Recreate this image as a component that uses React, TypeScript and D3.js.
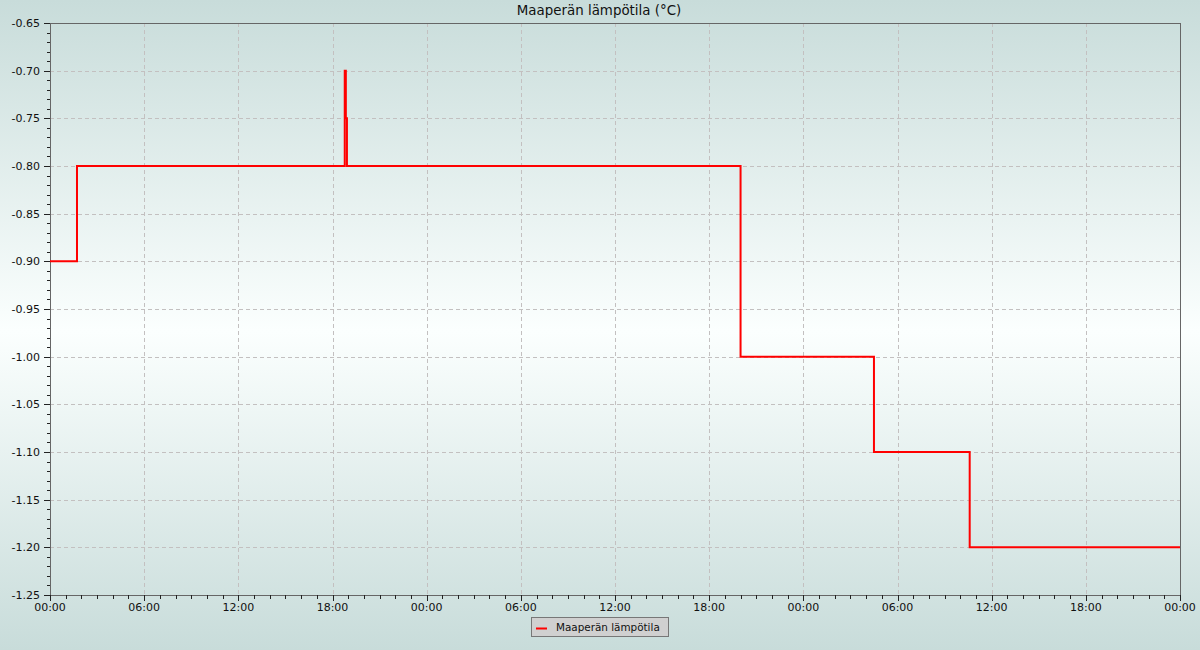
import React from "react";
import * as d3 from "d3";

const TITLE = "Maaperän lämpötila (°C)";
const SERIES_NAME = "Maaperän lämpötila";

// hours since start (start = 00:00 day 1) and the value recorded at that time (step-after)
const hours = [0, 1.72, 18.78, 18.85, 18.92, 44.0, 52.5, 58.6, 72];
const values = [-0.9, -0.8, -0.7, -0.75, -0.8, -1.0, -1.1, -1.2, -1.2];

const yTicks = [-0.65, -0.7, -0.75, -0.8, -0.85, -0.9, -0.95, -1.0, -1.05, -1.1, -1.15, -1.2, -1.25];
const xTickHours = [0, 6, 12, 18, 24, 30, 36, 42, 48, 54, 60, 66, 72];

const W = 1200;
const H = 650;
const M = { left: 50, right: 20, top: 23, bottom: 55 };

const start = Date.UTC(2024, 0, 1, 0, 0);
const toDate = (h: number) => new Date(start + h * 3600 * 1000);

export default function App() {
  const x = d3
    .scaleUtc()
    .domain([toDate(0), toDate(72)])
    .range([M.left, W - M.right]);
  const y = d3.scaleLinear().domain([-1.25, -0.65]).range([H - M.bottom, M.top]);

  const data = hours.map((h, i) => ({ t: toDate(h), v: values[i] }));
  const line = d3
    .line<{ t: Date; v: number }>()
    .x((d) => x(d.t))
    .y((d) => y(d.v))
    .curve(d3.curveStepAfter);

  const fmt = d3.utcFormat("%H:%M");
  const minorX = d3.range(0, 73, 1).filter((h) => h % 6 !== 0);
  const minorY = d3.range(-125, -64, 1).filter((v) => v % 5 !== 0).map((v) => v / 100);

  const x0 = M.left;
  const x1 = W - M.right;
  const y0 = H - M.bottom;
  const y1 = M.top;
  const font = "DejaVu Sans, sans-serif";

  return (
    <div style={{ position: "fixed", left: 0, top: 0 }}>
      <svg width={W} height={H} style={{ display: "block" }}>
        <defs>
          <linearGradient id="bg" x1="0" y1="0" x2="0" y2="1">
            <stop offset="0%" stopColor="#c8dcda" />
            <stop offset="51%" stopColor="#fbfffe" />
            <stop offset="100%" stopColor="#c8dcda" />
          </linearGradient>
        </defs>
        <rect x={0} y={0} width={W} height={H} fill="url(#bg)" />

        {/* grid */}
        <g stroke="#c3c0c0" strokeWidth={1} strokeDasharray="4,3" shapeRendering="crispEdges">
          {yTicks.slice(1, -1).map((v) => (
            <line key={"gy" + v} x1={x0} x2={x1} y1={Math.round(y(v)) + 0.5} y2={Math.round(y(v)) + 0.5} />
          ))}
          {xTickHours.slice(1, -1).map((h) => (
            <line key={"gx" + h} x1={Math.round(x(toDate(h))) + 0.5} x2={Math.round(x(toDate(h))) + 0.5} y1={y1} y2={y0} />
          ))}
        </g>

        {/* frame */}
        <rect x={x0 + 0.5} y={y1 + 0.5} width={x1 - x0} height={y0 - y1} fill="none" stroke="#666" strokeWidth={1} shapeRendering="crispEdges" />

        {/* ticks */}
        <g stroke="#222" strokeWidth={1} shapeRendering="crispEdges">
          {yTicks.map((v) => (
            <line key={"ty" + v} x1={x0 - 6} x2={x0} y1={Math.round(y(v)) + 0.5} y2={Math.round(y(v)) + 0.5} />
          ))}
          {minorY.map((v) => (
            <line key={"my" + v} x1={x0 - 3} x2={x0} y1={Math.round(y(v)) + 0.5} y2={Math.round(y(v)) + 0.5} />
          ))}
          {xTickHours.map((h) => (
            <line key={"tx" + h} x1={Math.round(x(toDate(h))) + 0.5} x2={Math.round(x(toDate(h))) + 0.5} y1={y0} y2={y0 + 6} />
          ))}
          {minorX.map((h) => (
            <line key={"mx" + h} x1={Math.round(x(toDate(h))) + 0.5} x2={Math.round(x(toDate(h))) + 0.5} y1={y0} y2={y0 + 4} />
          ))}
        </g>

        <g fontFamily={font} fontSize={11} fill="#111">
          {yTicks.map((v) => (
            <text key={"ly" + v} x={x0 - 10} y={y(v)} dy="0.35em" textAnchor="end">
              {v.toFixed(2)}
            </text>
          ))}
          {xTickHours.map((h) => (
            <text key={"lx" + h} x={x(toDate(h))} y={y0 + 16} textAnchor="middle">
              {fmt(toDate(h))}
            </text>
          ))}
        </g>

        {/* series */}
        <path d={line(data) ?? ""} fill="none" stroke="#ff0000" strokeWidth={2} />

        {/* title */}
        <text x={W / 2 - 1} y={15} textAnchor="middle" fontFamily={font} fontSize={13.4} fill="#111">
          {TITLE}
        </text>

        {/* legend */}
        <rect x={531.5} y={617.5} width={137} height={19} fill="#d0d0d0" stroke="#777" strokeWidth={1} />
        <line x1={536} x2={547} y1={628.5} y2={628.5} stroke="#ff0000" strokeWidth={2} />
        <text x={556} y={631} fontFamily={font} fontSize={10.4} fill="#111">
          {SERIES_NAME}
        </text>
      </svg>
    </div>
  );
}
